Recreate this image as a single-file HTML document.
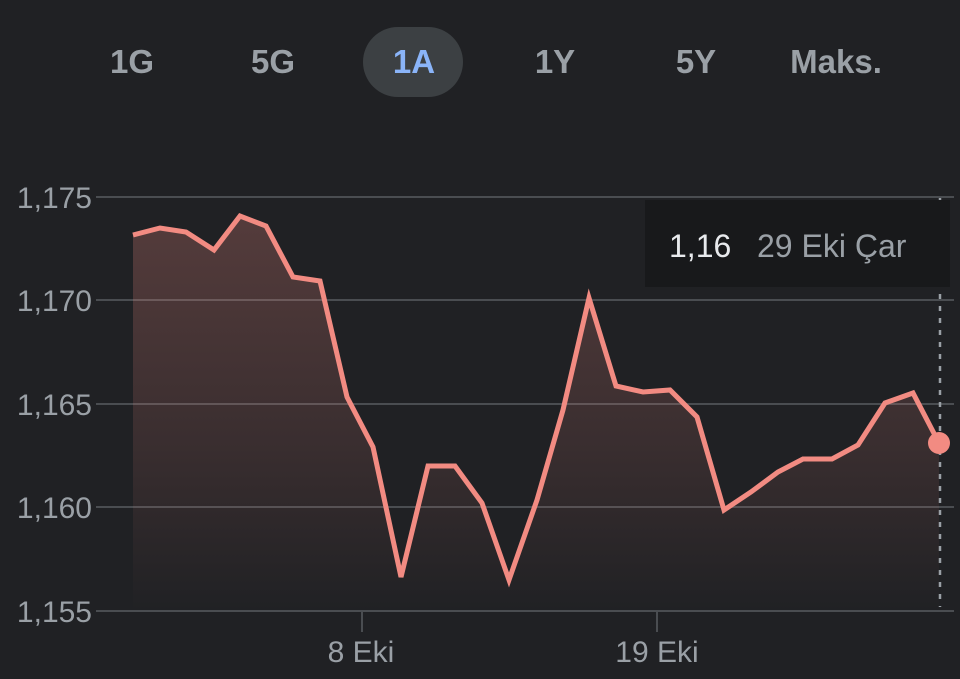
<!DOCTYPE html>
<html>
<head>
<meta charset="utf-8">
<style>
  html,body{margin:0;padding:0;background:#202124;}
  body{width:960px;height:679px;overflow:hidden;position:relative;font-family:"Liberation Sans",Arial,sans-serif;}
  svg{position:absolute;left:0;top:0;}
</style>
</head>
<body>
<svg width="960" height="679" viewBox="0 0 960 679" xmlns="http://www.w3.org/2000/svg">
  <defs>
    <linearGradient id="fillg" x1="0" y1="200" x2="0" y2="612" gradientUnits="userSpaceOnUse">
      <stop offset="0" stop-color="#f28b82" stop-opacity="0.26"/>
      <stop offset="0.6" stop-color="#f28b82" stop-opacity="0.12"/>
      <stop offset="1" stop-color="#f28b82" stop-opacity="0"/>
    </linearGradient>
  </defs>
  <rect width="960" height="679" fill="#202124"/>

  <!-- Tabs -->
  <rect x="363" y="27" width="100" height="70" rx="35" ry="35" fill="#3c4043"/>
  <g font-family="Liberation Sans, Arial, sans-serif" font-weight="bold" font-size="33" text-anchor="middle">
    <text x="132" y="73" fill="#9aa0a6">1G</text>
    <text x="273" y="73" fill="#9aa0a6">5G</text>
    <text x="414" y="73" fill="#8ab4f8">1A</text>
    <text x="555" y="73" fill="#9aa0a6">1Y</text>
    <text x="696" y="73" fill="#9aa0a6">5Y</text>
    <text x="836" y="73" fill="#9aa0a6">Maks.</text>
  </g>

  <!-- Grid lines -->
  <g stroke="#4a4d51" stroke-width="2">
    <line x1="96" y1="197" x2="954" y2="197"/>
    <line x1="96" y1="300" x2="954" y2="300"/>
    <line x1="96" y1="404" x2="954" y2="404"/>
    <line x1="96" y1="507" x2="954" y2="507"/>
    <line x1="96" y1="611" x2="954" y2="611"/>
  </g>

  <!-- Y labels -->
  <g font-family="Liberation Sans, Arial, sans-serif" font-size="30" fill="#9aa0a6" text-anchor="end">
    <text x="92" y="208">1,175</text>
    <text x="92" y="311">1,170</text>
    <text x="92" y="415">1,165</text>
    <text x="92" y="518">1,160</text>
    <text x="92" y="622">1,155</text>
  </g>

  <!-- X ticks and labels -->
  <g stroke="#4a4d51" stroke-width="2">
    <line x1="362" y1="611" x2="362" y2="632"/>
    <line x1="657" y1="611" x2="657" y2="632"/>
  </g>
  <g font-family="Liberation Sans, Arial, sans-serif" font-size="30" fill="#9aa0a6" text-anchor="middle">
    <text x="361" y="662">8 Eki</text>
    <text x="657" y="662">19 Eki</text>
  </g>

  <!-- Area fill -->
  <path fill="url(#fillg)" d="M133,235 L160,228 L186,232 L214,250 L240,216 L266,226 L293,277 L320,281 L347,397 L373,447 L401,577 L428,466 L455,466 L482,503 L509,580 L537,500 L563,410 L589,298 L616,386 L643,392 L670,390 L697,417 L724,510 L751,492 L778,472 L803,459 L832,459 L858,445 L885,403 L913,393 L939,443 L939,611 L133,611 Z"/>

  <!-- Dashed cursor line -->
  <line x1="940" y1="198" x2="940" y2="607" stroke="#9aa0a6" stroke-width="2.5" stroke-dasharray="5 7"/>

  <!-- Tooltip box -->
  <rect x="645" y="200" width="305" height="87" fill="#18191b"/>
  <text x="669" y="257" font-family="Liberation Sans, Arial, sans-serif" font-size="32" fill="#e8eaed">1,16</text>
  <text x="757" y="257" font-family="Liberation Sans, Arial, sans-serif" font-size="32" fill="#9aa0a6">29 Eki Çar</text>

  <!-- Line -->
  <polyline fill="none" stroke="#f28b82" stroke-width="5" stroke-linejoin="miter" stroke-linecap="butt"
    points="133,235 160,228 186,232 214,250 240,216 266,226 293,277 320,281 347,397 373,447 401,577 428,466 455,466 482,503 509,580 537,500 563,410 589,298 616,386 643,392 670,390 697,417 724,510 751,492 778,472 803,459 832,459 858,445 885,403 913,393 939,443"/>

  <!-- End dot -->
  <circle cx="939" cy="443" r="11" fill="#f28b82"/>
</svg>
</body>
</html>
